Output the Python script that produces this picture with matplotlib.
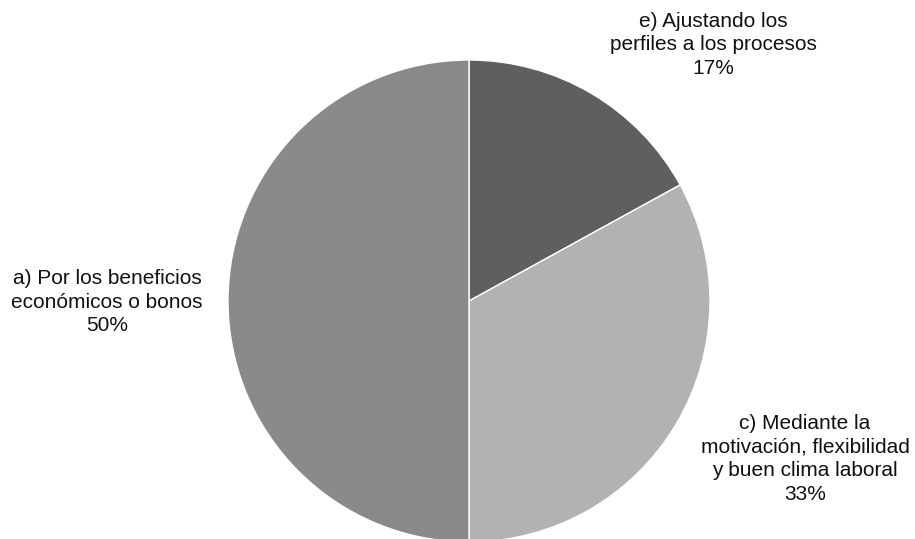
import matplotlib.pyplot as plt

# datos
labels = ['e) Ajustando los\nperfiles a los procesos',
          'c) Mediante la\nmotivación, flexibilidad\ny buen clima laboral',
          'a) Por los beneficios\neconómicos o bonos']
values = [17, 33, 50]
colors = ['#5f5f5f', '#b2b2b2', '#8a8a8a']

plt.rcParams['font.family'] = ['Liberation Sans', 'DejaVu Sans']

fig = plt.figure(figsize=(9.15, 5.39), dpi=100)
ax = fig.add_axes([0, 0, 1, 1])

ax.pie(values, colors=colors, startangle=90, counterclock=False,
       center=(469, 238), radius=241, frame=True,
       wedgeprops=dict(edgecolor='white', linewidth=1))
ax.set_xlim(0, 915)
ax.set_ylim(0, 539)
ax.set_aspect('equal')
ax.axis('off')

# posiciones de etiquetas
label_pos = [(713, 494), (805, 80), (107, 237)]
for lab, v, (x, y) in zip(labels, values, label_pos):
    ax.text(x, y, f'{lab}\n{v}%', ha='center', va='center', fontsize=15,
            color='#111111', linespacing=1.3)

fig.savefig('out.png', dpi=100)
